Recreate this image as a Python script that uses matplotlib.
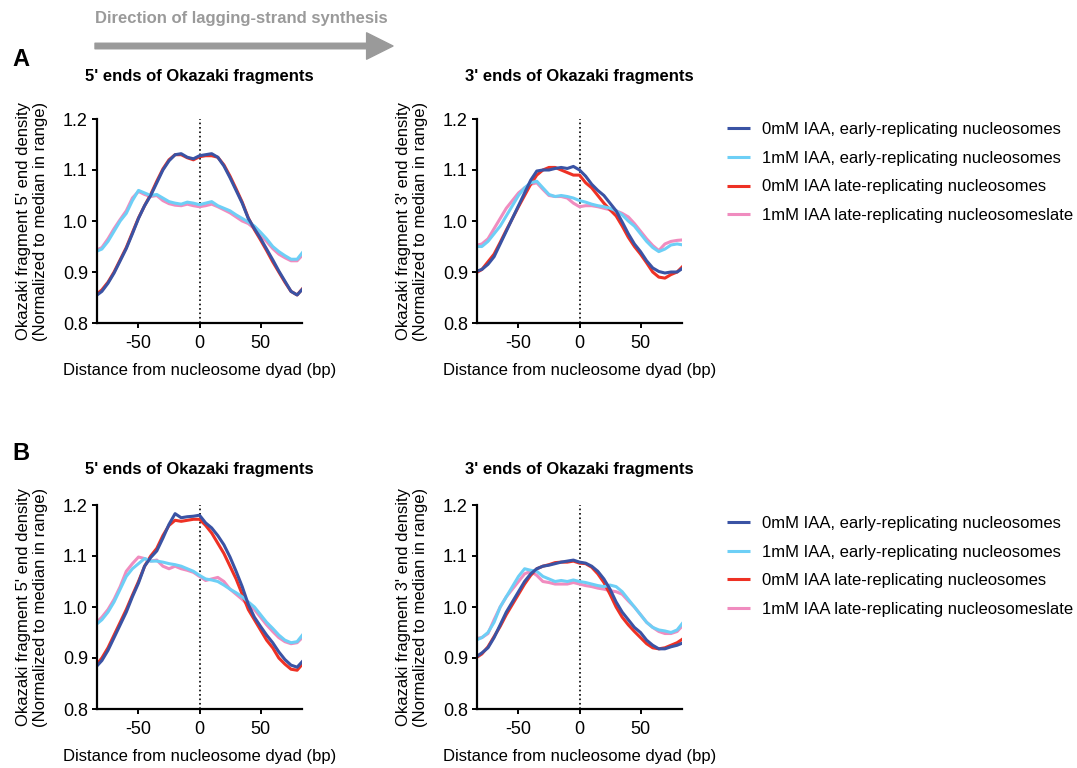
import matplotlib
matplotlib.use('Agg')
import matplotlib.pyplot as plt

plt.rcParams['font.family'] = ['Liberation Sans', 'DejaVu Sans']
plt.rcParams['axes.unicode_minus'] = False

bp = list(range(-85, 90, 5))

labels = ['0mM IAA, early-replicating nucleosomes',
          '1mM IAA, early-replicating nucleosomes',
          '0mM IAA late-replicating nucleosomes',
          '1mM IAA late-replicating nucleosomeslate']
colors = ['#3a53a4', '#6dcff6', '#ee3124', '#f08cbf']

# panel A, 5' ends
a5_early0 = [0.853, 0.862, 0.878, 0.898, 0.922, 0.946, 0.975, 1.005, 1.03, 1.05,
             1.075, 1.10, 1.118, 1.13, 1.132, 1.125, 1.122, 1.128,
             1.13, 1.132, 1.125, 1.108, 1.085, 1.06, 1.035, 1.005,
             0.985, 0.966, 0.945, 0.924, 0.902, 0.882, 0.862, 0.855, 0.868]
a5_early1 = [0.94, 0.945, 0.96, 0.98, 1.0, 1.015, 1.04, 1.06, 1.055, 1.05,
             1.052, 1.045, 1.038, 1.035, 1.033, 1.037, 1.035, 1.032,
             1.035, 1.038, 1.03, 1.025, 1.02, 1.012, 1.005, 0.998,
             0.99, 0.978, 0.965, 0.95, 0.94, 0.932, 0.925, 0.925, 0.94]
a5_late0 = [0.855, 0.865, 0.88, 0.9, 0.924, 0.948, 0.977, 1.006, 1.03, 1.052,
            1.078, 1.102, 1.12, 1.13, 1.13, 1.124, 1.12, 1.126,
            1.128, 1.128, 1.125, 1.11, 1.088, 1.063, 1.037, 1.006,
            0.983, 0.963, 0.942, 0.92, 0.9, 0.88, 0.862, 0.855, 0.869]
a5_late1 = [0.942, 0.948, 0.965, 0.985, 1.003, 1.02, 1.045, 1.058, 1.052, 1.048,
            1.05, 1.04, 1.034, 1.031, 1.03, 1.033, 1.03, 1.028,
            1.03, 1.033, 1.028, 1.022, 1.016, 1.008, 1.0, 0.995,
            0.985, 0.972, 0.96, 0.946, 0.935, 0.928, 0.922, 0.922, 0.935]

# panel A, 3' ends
a3_early0 = [0.901, 0.905, 0.915, 0.93, 0.955, 0.98, 1.005, 1.03, 1.055, 1.08,
             1.098, 1.10, 1.10, 1.103, 1.105, 1.103, 1.107, 1.10,
             1.088, 1.072, 1.06, 1.05, 1.035, 1.02, 0.998, 0.975,
             0.955, 0.94, 0.922, 0.908, 0.901, 0.898, 0.9, 0.9, 0.908]
a3_early1 = [0.95, 0.95, 0.96, 0.975, 0.99, 1.01, 1.03, 1.05, 1.065, 1.075,
             1.078, 1.065, 1.052, 1.048, 1.05, 1.048, 1.045, 1.04,
             1.037, 1.033, 1.03, 1.028, 1.025, 1.02, 1.012, 1.0,
             0.99, 0.975, 0.96, 0.948, 0.94, 0.945, 0.953, 0.955, 0.953]
a3_late0 = [0.898, 0.905, 0.92, 0.935, 0.958, 0.982, 1.005, 1.028, 1.05, 1.072,
            1.09, 1.10, 1.105, 1.105, 1.1, 1.095, 1.09, 1.09,
            1.075, 1.065, 1.05, 1.035, 1.022, 1.01, 0.99, 0.968,
            0.95, 0.935, 0.918, 0.9, 0.89, 0.888, 0.895, 0.9, 0.912]
a3_late1 = [0.952, 0.955, 0.965, 0.985, 1.005, 1.025, 1.04, 1.055, 1.065, 1.072,
            1.075, 1.062, 1.05, 1.048, 1.048, 1.045, 1.035, 1.028,
            1.03, 1.03, 1.028, 1.025, 1.022, 1.02, 1.015, 1.008,
            0.995, 0.98, 0.965, 0.952, 0.942, 0.955, 0.96, 0.962, 0.963]

# panel B, 5' ends
b5_early0 = [0.882, 0.895, 0.915, 0.94, 0.965, 0.99, 1.02, 1.047, 1.08, 1.097,
             1.11, 1.135, 1.162, 1.183, 1.175, 1.177, 1.178, 1.18,
             1.165, 1.155, 1.14, 1.122, 1.098, 1.07, 1.04, 1.005,
             0.98, 0.962, 0.945, 0.93, 0.912, 0.897, 0.886, 0.882, 0.895]
b5_early1 = [0.965, 0.975, 0.99, 1.01, 1.035, 1.06, 1.075, 1.085, 1.095, 1.09,
             1.09, 1.088, 1.085, 1.083, 1.08, 1.075, 1.07, 1.062,
             1.055, 1.053, 1.05, 1.043, 1.035, 1.028, 1.02, 1.01,
             1.0, 0.985, 0.97, 0.958, 0.945, 0.935, 0.93, 0.932, 0.947]
b5_late0 = [0.885, 0.9, 0.92, 0.945, 0.97, 0.995, 1.023, 1.05, 1.08, 1.1,
            1.115, 1.14, 1.16, 1.17, 1.168, 1.17, 1.172, 1.172,
            1.16, 1.145, 1.125, 1.105, 1.08, 1.055, 1.025, 0.995,
            0.975, 0.955, 0.935, 0.92, 0.9, 0.888, 0.878, 0.876, 0.89]
b5_late1 = [0.968, 0.98, 0.995, 1.015, 1.04, 1.07, 1.085, 1.098, 1.095, 1.09,
            1.092, 1.08, 1.075, 1.08, 1.075, 1.072, 1.068, 1.06,
            1.052, 1.055, 1.058, 1.05, 1.035, 1.025, 1.015, 1.003,
            0.995, 0.98, 0.965, 0.952, 0.94, 0.932, 0.928, 0.93, 0.942]

# panel B, 3' ends
b3_early0 = [0.902, 0.91, 0.92, 0.94, 0.965, 0.99, 1.01, 1.03, 1.05, 1.065,
             1.075, 1.08, 1.082, 1.085, 1.088, 1.09, 1.092, 1.088,
             1.086, 1.08, 1.07, 1.055, 1.035, 1.01, 0.99, 0.975,
             0.96, 0.95, 0.935, 0.925, 0.918, 0.918, 0.922, 0.925, 0.93]
b3_early1 = [0.935, 0.94, 0.95, 0.97, 1.0, 1.02, 1.04, 1.06, 1.075, 1.072,
             1.07, 1.06, 1.055, 1.05, 1.052, 1.05, 1.053, 1.05,
             1.048, 1.045, 1.042, 1.04, 1.043, 1.04, 1.03, 1.015,
             1.0, 0.985, 0.97, 0.96, 0.955, 0.953, 0.95, 0.955, 0.97]
b3_late0 = [0.9, 0.908, 0.922, 0.942, 0.962, 0.985, 1.005, 1.025, 1.045, 1.062,
            1.075, 1.08, 1.083, 1.087, 1.088, 1.088, 1.09, 1.086,
            1.085, 1.078, 1.065, 1.048, 1.025, 1.0, 0.98, 0.965,
            0.952, 0.94, 0.928, 0.92, 0.918, 0.92, 0.925, 0.93, 0.938]
b3_late1 = [0.938, 0.94, 0.948, 0.975, 1.0, 1.02, 1.035, 1.05, 1.065, 1.07,
            1.062, 1.05, 1.048, 1.045, 1.045, 1.045, 1.048, 1.045,
            1.042, 1.04, 1.037, 1.035, 1.032, 1.03, 1.025, 1.012,
            1.0, 0.985, 0.97, 0.96, 0.952, 0.948, 0.948, 0.952, 0.965]

W, H = 1077, 768
fig = plt.figure(figsize=(W / 100, H / 100), dpi=100)


def make_panel(left_px, top_px, series, title, title_pad, ylabel):
    ax = fig.add_axes([left_px / W, 1 - (top_px + 204) / H, 205 / W, 204 / H])
    # draw order: late under early
    for i in [3, 2, 1, 0]:
        ax.plot(bp, series[i], color=colors[i], lw=2.2, label=labels[i],
                solid_capstyle='butt')
    ax.axvline(0, color='black', ls=':', lw=1.2, zorder=0)
    ax.set_xlim(-84, 84)
    ax.set_ylim(0.8, 1.2)
    ax.set_xticks([-50, 0, 50])
    ax.set_yticks([0.8, 0.9, 1.0, 1.1, 1.2])
    ax.set_yticklabels(['0.8', '0.9', '1.0', '1.1', '1.2'])
    for s in ['top', 'right']:
        ax.spines[s].set_visible(False)
    for s in ['left', 'bottom']:
        ax.spines[s].set_linewidth(1.6)
    ax.tick_params(labelsize=13, width=1.4, length=3.5)
    ax.tick_params(axis='x', pad=5)
    ax.tick_params(axis='y', pad=3)
    ax.set_title(title, fontsize=12, fontweight='bold', pad=title_pad)
    ax.set_xlabel('Distance from nucleosome dyad (bp)', fontsize=12, labelpad=8)
    ax.set_ylabel(ylabel, fontsize=12, labelpad=11, linespacing=1.15)
    return ax


yl5 = "Okazaki fragment 5' end density\n(Normalized to median in range)"
yl3 = "Okazaki fragment 3' end density\n(Normalized to median in range)"

make_panel(97, 119, [a5_early0, a5_early1, a5_late0, a5_late1],
           "5' ends of Okazaki fragments", 27, yl5)
axa = make_panel(477, 119, [a3_early0, a3_early1, a3_late0, a3_late1],
                 "3' ends of Okazaki fragments", 27, yl3)
make_panel(97, 505, [b5_early0, b5_early1, b5_late0, b5_late1],
           "5' ends of Okazaki fragments", 22, yl5)
axb = make_panel(477, 505, [b3_early0, b3_early1, b3_late0, b3_late1],
                 "3' ends of Okazaki fragments", 22, yl3)

for ax, top in [(axa, 107), (axb, 501)]:
    h, l = ax.get_legend_handles_labels()
    order = [3, 2, 1, 0]
    ax.legend([h[k] for k in order], [l[k] for k in order],
              loc='upper left', bbox_to_anchor=(712 / W, 1 - top / H),
              bbox_transform=fig.transFigure, frameon=False, fontsize=12,
              handlelength=1.4, handletextpad=0.7, labelspacing=0.82)

fig.text(12 / W, 1 - 60 / H, 'A', fontsize=17, fontweight='bold', va='center')
fig.text(12 / W, 1 - 453 / H, 'B', fontsize=17, fontweight='bold', va='center')

fig.text(95 / W, 1 - 18 / H, 'Direction of lagging-strand synthesis',
         color='#9a9a9a', fontsize=12, fontweight='bold', va='center')
plt.annotate('', xy=(393, H - 46), xytext=(95, H - 46),
             xycoords='figure pixels', textcoords='figure pixels',
             arrowprops=dict(arrowstyle='simple,head_length=0.95,head_width=0.95,tail_width=0.2',
                             color='#9a9a9a', mutation_scale=20, shrinkA=0, shrinkB=0))

fig.savefig('out.png', dpi=100)
